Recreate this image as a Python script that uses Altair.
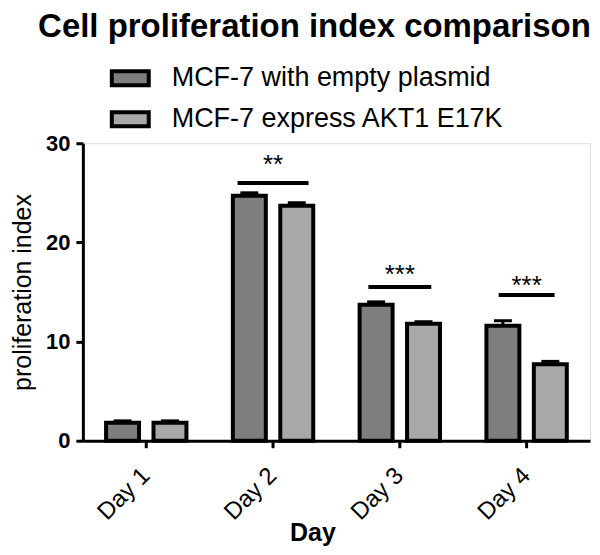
import altair as alt
import pandas as pd

days = ["Day 1", "Day 2", "Day 3", "Day 4"]
groups = ["MCF-7 with empty plasmid", "MCF-7 express AKT1 E17K"]
empty_vals = [1.8, 24.7, 13.7, 11.6]
empty_err = [0.2, 0.3, 0.3, 0.5]
akt_vals = [1.8, 23.7, 11.8, 7.7]
akt_err = [0.2, 0.3, 0.2, 0.3]

sig_days = ["Day 2", "Day 3", "Day 4"]
sig_line = [26.0, 15.5, 14.7]
sig_star = [27.8, 16.7, 15.6]
sig_text = ["**", "***", "***"]

rows = []
for i, d in enumerate(days):
    rows.append({"Day": d, "group": groups[0], "value": empty_vals[i],
                 "top": empty_vals[i] + empty_err[i]})
    rows.append({"Day": d, "group": groups[1], "value": akt_vals[i],
                 "top": akt_vals[i] + akt_err[i]})
df = pd.DataFrame(rows)
sig = pd.DataFrame({"Day": sig_days, "line": sig_line, "star": sig_star, "text": sig_text})

FONT = "Liberation Sans"

xscale = alt.Scale(domain=days, paddingInner=0.366, paddingOuter=0.183)
xoff = alt.XOffset("group:N", scale=alt.Scale(domain=groups, paddingInner=0.305, paddingOuter=0))
yscale = alt.Scale(domain=[0, 30])

x_enc = alt.X("Day:N", scale=xscale, sort=days,
              axis=alt.Axis(title="Day", labelAngle=-45, labelFontSize=24,
                            labelFont=FONT, labelColor="black", labelPadding=24,
                            labelAlign="right", labelBaseline="middle",
                            titleFont=FONT, titleFontSize=25, titleFontWeight="bold",
                            titleColor="black", titleX=230, titleY=100,
                            titleBaseline="alphabetic", titleAlign="center",
                            tickSize=7, tickWidth=3, tickColor="black",
                            domainWidth=3, domainColor="black"))
y_enc = alt.Y("value:Q", scale=yscale,
              axis=alt.Axis(title="proliferation index", values=[0, 10, 20, 30],
                            grid=False, labelFontSize=22, labelFontWeight="bold",
                            labelFont=FONT, labelColor="black", labelPadding=6,
                            titleFont=FONT, titleFontSize=25, titleFontWeight="normal",
                            titleColor="black", titleX=-60, titleY=149,
                            titleBaseline="middle", titleAlign="center",
                            tickSize=7, tickWidth=3, tickColor="black",
                            domainWidth=3, domainColor="black"))

base = alt.Chart(df)

bars = base.mark_bar(stroke="black", strokeWidth=4).encode(
    x=x_enc,
    xOffset=xoff,
    y=y_enc,
    fill=alt.Fill("group:N",
                  scale=alt.Scale(domain=groups, range=["#7e7e7e", "#a8a8a8"]),
                  legend=alt.Legend(title=None, orient="none", legendX=27, legendY=-85.5,
                                    labelFont=FONT, labelFontSize=27, labelColor="black",
                                    labelLimit=500,
                                    symbolType="M-1,-0.378H1V0.378H-1Z", symbolSize=1369,
                                    symbolStrokeColor="black", symbolStrokeWidth=4,
                                    symbolOpacity=1, labelOffset=21, rowPadding=5,
                                    padding=0)),
)

err = base.mark_rule(color="black", strokeWidth=3).encode(
    x=alt.X("Day:N", scale=xscale, sort=days),
    xOffset=xoff,
    y=alt.Y("value:Q", scale=yscale),
    y2="top:Q",
)
cap = base.mark_tick(color="black", thickness=3, size=18, opacity=1).encode(
    x=alt.X("Day:N", scale=xscale, sort=days),
    xOffset=xoff,
    y=alt.Y("top:Q", scale=yscale),
)

sig_base = alt.Chart(sig)
line_sizes = {"Day 2": 71, "Day 3": 63, "Day 4": 56}
sig_lines = [
    sig_base.transform_filter(alt.datum.Day == d).mark_tick(
        color="black", thickness=4, size=s, opacity=1).encode(
        x=alt.X("Day:N", scale=xscale, sort=days),
        y=alt.Y("line:Q", scale=yscale),
    )
    for d, s in line_sizes.items()
]
sig_stars = sig_base.mark_text(font=FONT, fontSize=26, fontWeight="normal",
                               color="black", baseline="middle").encode(
    x=alt.X("Day:N", scale=xscale, sort=days),
    y=alt.Y("star:Q", scale=yscale),
    text="text:N",
)

chart = alt.layer(bars, err, cap, *sig_lines, sig_stars).properties(
    width=508, height=298,
    title=alt.TitleParams("Cell proliferation index comparison", font=FONT, fontSize=33,
                          fontWeight="bold", color="black", anchor="middle",
                          dx=-22, offset=14),
    autosize=alt.AutoSizeParams(type="none"),
    padding={"left": 75, "top": 135, "right": 2, "bottom": 105},
).configure_view(stroke=None).configure(background="white")

chart.save("out.html", embed_options={"renderer": "svg", "actions": False})
